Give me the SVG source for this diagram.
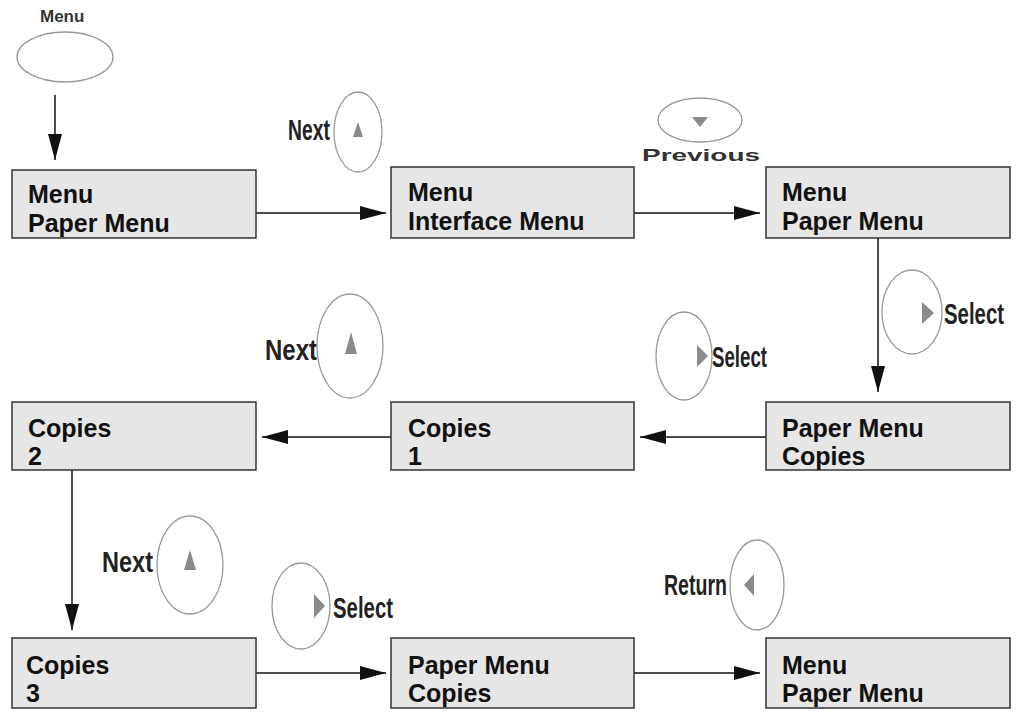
<svg xmlns="http://www.w3.org/2000/svg" width="1018" height="718" viewBox="0 0 1018 718">
<style>
.box{fill:#e6e6e6;stroke:#333;stroke-width:1.5}
.bt{font-family:"Liberation Sans",Arial,sans-serif;font-weight:bold;font-size:25px;fill:#111}
.btn{fill:none;stroke:#999;stroke-width:1.3}
.tri{fill:#8a8a8a}
.lbl{font-family:"Liberation Sans",Arial,sans-serif;font-weight:bold;font-size:30px;fill:#222}
.sm{font-family:"Liberation Sans",Arial,sans-serif;font-weight:bold;font-size:17px;fill:#333}
.c{stroke:#111;stroke-width:1.5;fill:none;marker-end:url(#ah)}
</style>
<defs><marker id="ah" markerWidth="26" markerHeight="14" refX="26" refY="7" orient="auto" markerUnits="userSpaceOnUse"><path d="M0,0 L26,7 L0,14 Z" fill="#111"/></marker></defs>
<rect width="1018" height="718" fill="#fff"/>
<g id="connectors">
<path class="c" d="M55,95 V160"/>
<path class="c" d="M256,213 H386"/>
<path class="c" d="M634,213 H760"/>
<path class="c" d="M878,238 V392"/>
<path class="c" d="M766,437 H640"/>
<path class="c" d="M391,437 H262"/>
<path class="c" d="M72,470 V630"/>
<path class="c" d="M256,673 H386"/>
<path class="c" d="M634,673 H760"/>
</g>
<g id="btn-menu"><text class="sm" x="40" y="22">Menu</text><ellipse class="btn" cx="65" cy="57" rx="48" ry="25"/></g>
<g id="btn-next1"><text class="lbl" x="288" y="140" textLength="42" lengthAdjust="spacingAndGlyphs" font-size="28">Next</text><ellipse class="btn" cx="358" cy="132" rx="24" ry="40"/><path class="tri" d="M358,122 L363,137 L353,137Z"/></g>
<g id="btn-prev"><ellipse class="btn" cx="700" cy="120" rx="42" ry="22"/><path class="tri" d="M692,117 L708,117 L700,127Z"/><text class="sm" x="642" y="161" font-size="19" textLength="118" lengthAdjust="spacingAndGlyphs">Previous</text></g>
<g id="btn-sel1"><ellipse class="btn" cx="912" cy="312" rx="30" ry="42"/><path class="tri" d="M922,302 L934,313 L922,324Z"/><text class="lbl" x="944" y="324" textLength="60" lengthAdjust="spacingAndGlyphs">Select</text></g>
<g id="btn-next2"><text class="lbl" x="265" y="360" textLength="52" lengthAdjust="spacingAndGlyphs">Next</text><ellipse class="btn" cx="350" cy="346" rx="33" ry="52"/><path class="tri" d="M351,332 L357,354 L345,354Z"/></g>
<g id="btn-sel2"><ellipse class="btn" cx="684" cy="356" rx="28" ry="44"/><path class="tri" d="M697,345 L708,356 L697,367Z"/><text class="lbl" x="712" y="367" textLength="55" lengthAdjust="spacingAndGlyphs">Select</text></g>
<g id="btn-next3"><text class="lbl" x="102" y="572" textLength="51" lengthAdjust="spacingAndGlyphs">Next</text><ellipse class="btn" cx="190" cy="565" rx="33" ry="49"/><path class="tri" d="M190,550 L196,570 L184,570Z"/></g>
<g id="btn-sel3"><ellipse class="btn" cx="301" cy="606" rx="29" ry="43"/><path class="tri" d="M314,594 L325,606 L314,618Z"/><text class="lbl" x="333" y="618" textLength="60" lengthAdjust="spacingAndGlyphs">Select</text></g>
<g id="btn-return"><text class="lbl" x="664" y="595" textLength="63" lengthAdjust="spacingAndGlyphs" font-size="28">Return</text><ellipse class="btn" cx="757" cy="585" rx="27" ry="45"/><path class="tri" d="M744,585 L754,574 L754,596Z"/></g>
<g id="n1"><rect class="box" x="12" y="170" width="244" height="68"/><text class="bt" x="28" y="203">Menu</text><text class="bt" x="28" y="232">Paper Menu</text></g>
<g id="n2"><rect class="box" x="391" y="167" width="243" height="71"/><text class="bt" x="408" y="201">Menu</text><text class="bt" x="408" y="230">Interface Menu</text></g>
<g id="n3"><rect class="box" x="766" y="167" width="244" height="71"/><text class="bt" x="782" y="201">Menu</text><text class="bt" x="782" y="230">Paper Menu</text></g>
<g id="n4"><rect class="box" x="12" y="402" width="244" height="68"/><text class="bt" x="28" y="437">Copies</text><text class="bt" x="28" y="465">2</text></g>
<g id="n5"><rect class="box" x="391" y="402" width="243" height="68"/><text class="bt" x="408" y="437">Copies</text><text class="bt" x="408" y="465">1</text></g>
<g id="n6"><rect class="box" x="766" y="402" width="244" height="68"/><text class="bt" x="782" y="437">Paper Menu</text><text class="bt" x="782" y="465">Copies</text></g>
<g id="n7"><rect class="box" x="12" y="638" width="244" height="70"/><text class="bt" x="26" y="674">Copies</text><text class="bt" x="26" y="702">3</text></g>
<g id="n8"><rect class="box" x="391" y="638" width="243" height="70"/><text class="bt" x="408" y="674">Paper Menu</text><text class="bt" x="408" y="702">Copies</text></g>
<g id="n9"><rect class="box" x="766" y="638" width="244" height="70"/><text class="bt" x="782" y="674">Menu</text><text class="bt" x="782" y="702">Paper Menu</text></g>
</svg>
